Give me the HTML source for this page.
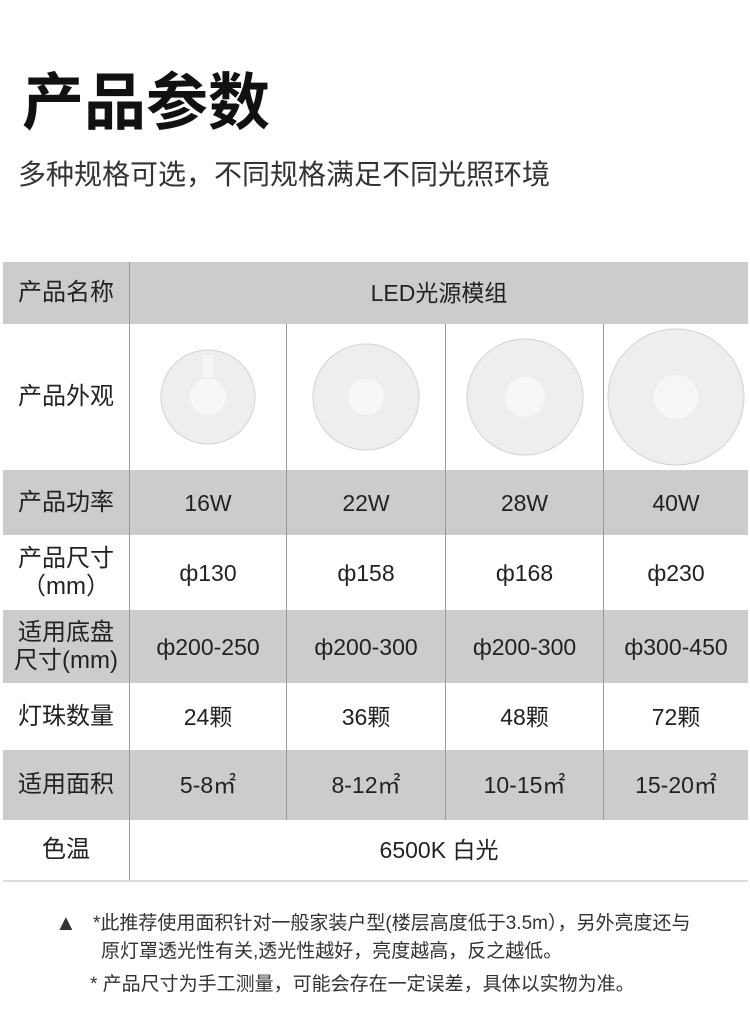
<!DOCTYPE html>
<html><head><meta charset="utf-8"><style>
body{margin:0;width:750px;height:1029px;background:#fff;font-family:"Liberation Sans","Noto Sans CJK SC",sans-serif;color:#111;position:relative;overflow:hidden}
.t{position:absolute;left:22px;top:64px;font-size:62px;font-weight:bold;letter-spacing:0px;line-height:80px}
.s{position:absolute;left:18px;top:157px;font-size:28px;color:#333;line-height:36px}
.r{position:absolute;left:3px;width:745px;display:flex}
.g{background:#cccccc}
.c{display:flex;align-items:center;justify-content:center;font-size:23px;color:#222;box-sizing:border-box;border-left:1px solid #999;text-align:center;line-height:28px}
.c:first-child{border-left:none;font-size:24px}
.w1{width:126px}.w2{width:157px}.w3{width:159px}.w4{width:158px}.w5{width:145px}.wa{width:619px}
.n{position:absolute;font-size:19px;color:#333;line-height:24px}
</style></head><body>
<div class="t">产品参数</div>
<div class="s">多种规格可选，不同规格满足不同光照环境</div>

<div class="r g" style="top:262px;height:62px"><div class="c w1">产品名称</div><div class="c wa">LED光源模组</div></div>
<div class="r" style="top:324px;height:146px"><div class="c w1">产品外观</div>
<div class="c w2"><svg width="100" height="100"><circle cx="50" cy="50" r="47" fill="#eceef0" stroke="#d0d2d4"/><circle cx="50" cy="50" r="18" fill="#f7f7f7"/><rect x="44" y="8" width="12" height="22" fill="#f5f5f5"/></svg></div>
<div class="c w3"><svg width="110" height="110"><circle cx="55" cy="55" r="53" fill="#eceef0" stroke="#d0d2d4"/><circle cx="55" cy="55" r="18" fill="#f7f7f7"/></svg></div>
<div class="c w4"><svg width="120" height="120"><circle cx="60" cy="60" r="58" fill="#eceef0" stroke="#d0d2d4"/><circle cx="60" cy="60" r="20" fill="#f7f7f7"/></svg></div>
<div class="c w5"><svg width="140" height="140"><circle cx="70" cy="70" r="68" fill="#eceef0" stroke="#d0d2d4"/><circle cx="70" cy="70" r="22" fill="#f7f7f7"/></svg></div></div>
<div class="r g" style="top:470px;height:65px"><div class="c w1">产品功率</div><div class="c w2">16W</div><div class="c w3">22W</div><div class="c w4">28W</div><div class="c w5">40W</div></div>
<div class="r" style="top:535px;height:75px"><div class="c w1">产品尺寸<br>（mm）</div><div class="c w2">ф130</div><div class="c w3">ф158</div><div class="c w4">ф168</div><div class="c w5">ф230</div></div>
<div class="r g" style="top:610px;height:73px"><div class="c w1">适用底盘<br>尺寸(mm)</div><div class="c w2">ф200-250</div><div class="c w3">ф200-300</div><div class="c w4">ф200-300</div><div class="c w5">ф300-450</div></div>
<div class="r" style="top:683px;height:67px"><div class="c w1">灯珠数量</div><div class="c w2">24颗</div><div class="c w3">36颗</div><div class="c w4">48颗</div><div class="c w5">72颗</div></div>
<div class="r g" style="top:750px;height:70px"><div class="c w1">适用面积</div><div class="c w2">5-8㎡</div><div class="c w3">8-12㎡</div><div class="c w4">10-15㎡</div><div class="c w5">15-20㎡</div></div>
<div class="r" style="top:820px;height:60px;border-bottom:2px solid #ddd"><div class="c w1">色温</div><div class="c wa">6500K 白光</div></div>

<div class="n" style="left:55px;top:911px;font-size:22px">▲</div>
<div class="n" style="left:93px;top:912px">*此推荐使用面积针对一般家装户型(楼层高度低于3.5m），另外亮度还与</div>
<div class="n" style="left:101px;top:940px">原灯罩透光性有关,透光性越好，亮度越高，反之越低。</div>
<div class="n" style="left:90px;top:973px">* 产品尺寸为手工测量，可能会存在一定误差，具体以实物为准。</div>
</body></html>
